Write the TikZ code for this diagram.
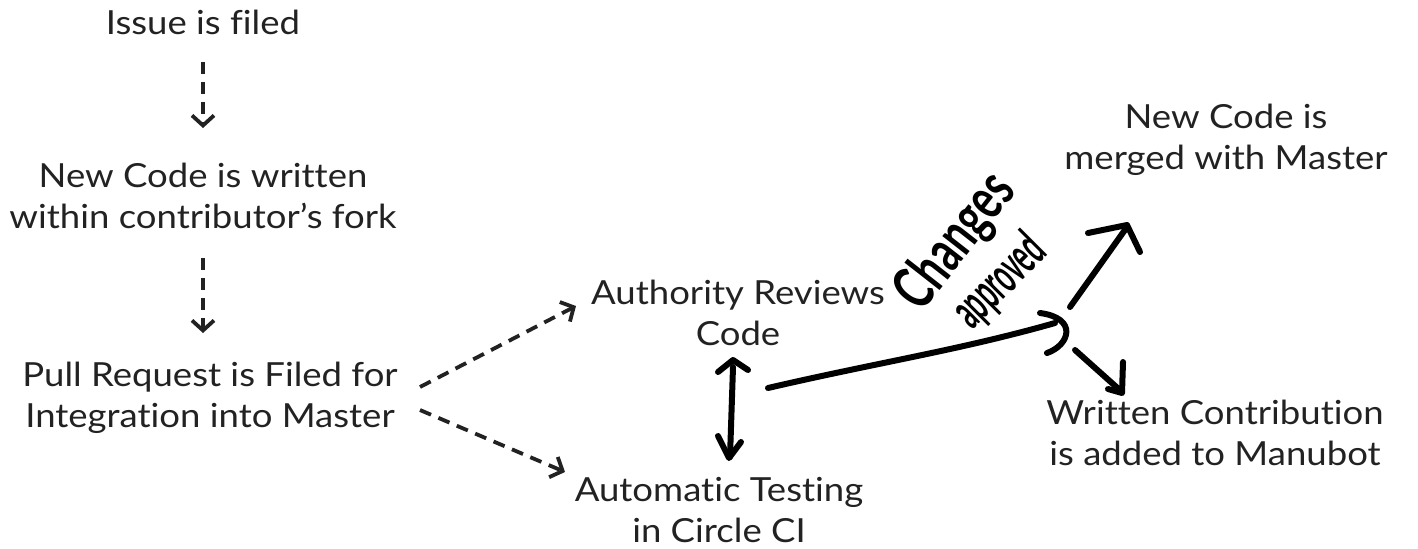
\documentclass[tikz,border=0pt]{standalone}
\usepackage{fontspec}
\setmainfont{Lato}[Ligatures=NoCommon,FakeStretch=1.1]
\usetikzlibrary{arrows.meta}
\definecolor{ink}{HTML}{222222}

\begin{document}
\begin{tikzpicture}[x=0.5pt,y=-0.5pt,
    txt/.style={align=center,text=ink,font=\fontsize{16.6}{20.5}\selectfont,inner sep=0pt},
    flow/.style={ink,line width=1.9pt,dash pattern=on 6pt off 4pt,
      -{Straight Barb[length=5pt,width=11pt,line width=1.9pt]}},
    hand/.style={black,line width=3pt,line cap=round,line join=round},
    scrawl/.style={black,inner sep=0pt}]
  \useasboundingbox (0,0) rectangle (1418,548);

  \node[txt] (issue) at (203,22) {Issue is filed};
  \node[txt] (fork) at (203,196) {New Code is written\\within contributor’s fork};
  \node[txt] (pull) at (210,398) {Pull Request is Filed for\\Integration into Master};
  \node[txt] (review) at (738,313) {Authority Reviews\\Code};
  \node[txt] (test) at (719,510) {Automatic Testing\\in Circle CI};
  \node[txt] (merge) at (1226,140) {New Code is\\merged with Master};
  \node[txt] (manubot) at (1215,433) {Written Contribution\\is added to Manubot};

  \draw[flow] (203,62) -- (203,128);
  \draw[flow] (203,258) -- (203,333);
  \draw[flow] (420,387) -- (576,306);
  \draw[flow] (420,410) -- (565,472);

  % hand drawn part
  \coordinate (hub) at (1055,323);
  \draw[hand] (733,367) -- (730,457);
  \draw[hand] (718,372) -- (733,360) -- (748,370);
  \draw[hand] (718,436) -- (729,458) -- (741,442);
  \draw[hand] (768,388) .. controls (880,362) and (960,350) .. (hub);
  \draw[hand] (1040,313) .. controls (1078,318) and (1070,345) .. (1047,353);
  \draw[hand] (1070,307) -- (1127,227);
  \draw[hand] (1088,233) -- (1127,225) -- (1140,252);
  \draw[hand] (1075,350) -- (1122,392);
  \draw[hand] (1108,389) -- (1122,393) -- (1123,362);
  \node[scrawl,rotate=52,font=\fontsize{30}{30}\selectfont\bfseries]
    (changes) at (956,242) {\scalebox{0.62}[1]{Changes}};
  \node[scrawl,rotate=45,font=\fontsize{26}{26}\selectfont\bfseries]
    (approved) at (1000,282) {\scalebox{0.45}[1]{approved}};
\end{tikzpicture}
\end{document}
